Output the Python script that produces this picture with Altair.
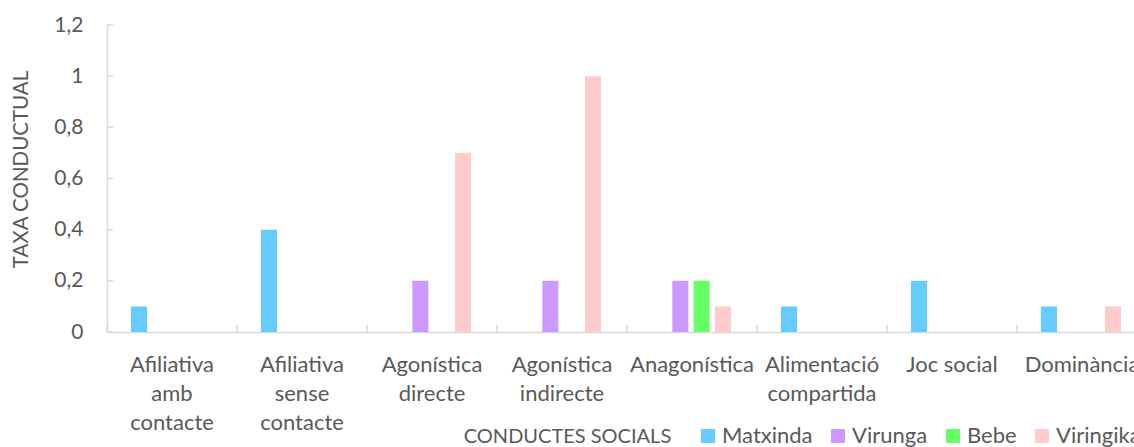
import altair as alt
import pandas as pd

categories = [
    "Afiliativa\namb\ncontacte",
    "Afiliativa\nsense\ncontacte",
    "Agonística\ndirecte",
    "Agonística\nindirecte",
    "Anagonística",
    "Alimentació\ncompartida",
    "Joc social",
    "Dominància",
]
series = ["Matxinda", "Virunga", "Bebe", "Viringika"]
colors = ["#66CCFF", "#CC99FF", "#66FF66", "#FFCCCC"]
matxinda = [0.1, 0.4, 0, 0, 0, 0.1, 0.2, 0.1]
virunga = [0, 0, 0.2, 0.2, 0.2, 0, 0, 0]
bebe = [0, 0, 0, 0, 0.2, 0, 0, 0]
viringika = [0, 0, 0.7, 1.0, 0.1, 0, 0, 0.1]
y_ticks = [0, 0.2, 0.4, 0.6, 0.8, 1.0, 1.2]

rows = []
for name, vals in zip(series, [matxinda, virunga, bebe, viringika]):
    for c, v in zip(categories, vals):
        rows.append({"cat": c, "serie": name, "value": v})
df = pd.DataFrame(rows)

FONT = "Lato"
TXT = "#595959"
GRAY = "#D9D9D9"
W, H, BAND = 1027, 307, 130

x_scale = alt.Scale(domain=categories, range=[0, BAND * len(categories)],
                    paddingInner=0, paddingOuter=0)
y_scale = alt.Scale(domain=[0, 1.2], nice=False, zero=True)

x_axis = alt.Axis(title="CONDUCTES SOCIALS", labelAngle=0, ticks=False, tickSize=0,
                  domainColor=GRAY, domainWidth=1.5, labelColor=TXT, labelFont=FONT,
                  labelFontSize=22, labelLineHeight=29, labelPadding=39,
                  labelBaseline="alphabetic", labelOverlap=False, labelLimit=300,
                  labelExpr="split(datum.label, '\\n')",
                  titleFont=FONT, titleFontSize=20, titleFontWeight="normal",
                  titleColor=TXT, titleX=460, titleY=104, titleAlign="center",
                  titleAnchor="start", titleBaseline="middle")
y_axis = alt.Axis(title="TAXA CONDUCTUAL", values=y_ticks, grid=False, ticks=False,
                  tickSize=0, domainColor=GRAY, domainWidth=1.5, labelColor=TXT,
                  labelFont=FONT, labelFontSize=21, labelPadding=24,
                  labelExpr="replace(format(datum.value, '~g'), '.', ',')",
                  titleFont=FONT, titleFontSize=20.5, titleFontWeight="normal",
                  titleColor=TXT, titleX=-86, titleY=144, titleAngle=270,
                  titleAlign="center", titleAnchor="start", titleBaseline="middle")

bars = alt.Chart(df).mark_bar().encode(
    x=alt.X("cat:N", scale=x_scale, sort=categories, axis=x_axis),
    xOffset=alt.XOffset("serie:N", sort=series,
                        scale=alt.Scale(domain=series, range=[24, 104],
                                        paddingInner=0.25, paddingOuter=0)),
    y=alt.Y("value:Q", scale=y_scale, axis=y_axis),
    color=alt.Color("serie:N", scale=alt.Scale(domain=series, range=colors),
                    legend=alt.Legend(title=None, orient="none", legendX=590, legendY=400,
                                      padding=0, direction="horizontal", symbolType="square",
                                      symbolSize=196, symbolStrokeWidth=0, labelFont=FONT,
                                      labelFontSize=22, labelColor=TXT, columnPadding=14,
                                      labelOffset=3)),
)

xticks = alt.Chart(pd.DataFrame({"cat": categories})).mark_rule(color=GRAY, strokeWidth=1.5).encode(
    x=alt.X("cat:N", bandPosition=0, scale=x_scale, sort=categories, axis=x_axis),
    y=alt.value(H - 7),
    y2=alt.value(H),
)

yticks = alt.Chart(pd.DataFrame({"value": y_ticks})).mark_rule(color=GRAY, strokeWidth=1.5).encode(
    y=alt.Y("value:Q", scale=y_scale, axis=y_axis),
    x=alt.value(0),
    x2=alt.value(6),
)

chart = alt.layer(bars, xticks, yticks).properties(
    width=W, height=H,
    autosize=alt.AutoSizeParams(type="none"),
    padding={"left": 107, "top": 25, "right": 0, "bottom": 115},
    background="white",
).configure_view(stroke=None)

chart.save("out.html", embed_options={"renderer": "svg", "actions": False})
